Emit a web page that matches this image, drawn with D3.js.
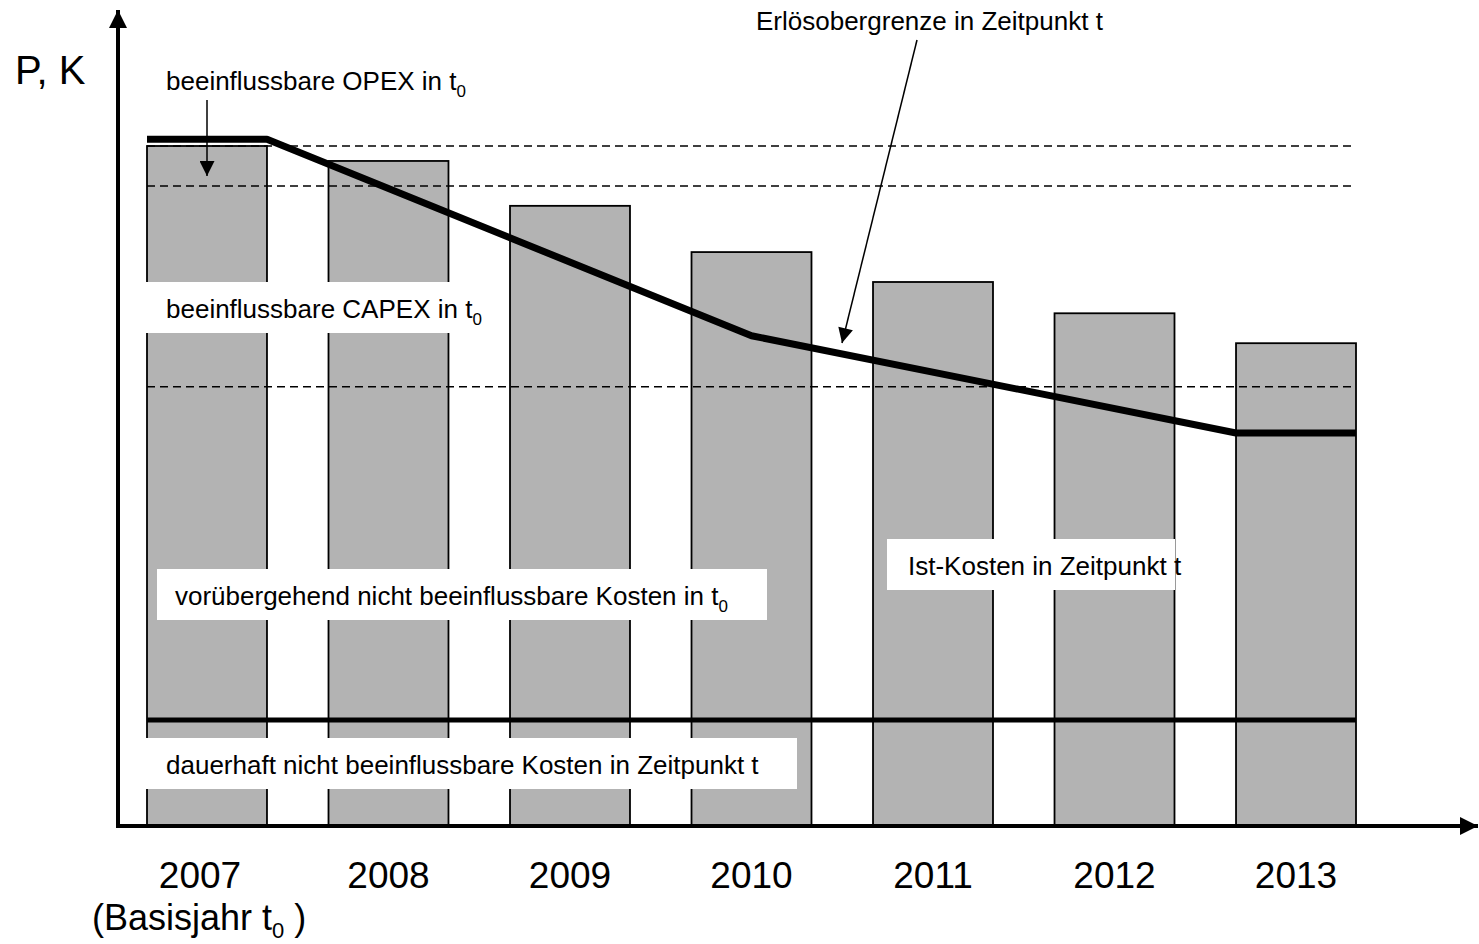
<!DOCTYPE html>
<html>
<head>
<meta charset="utf-8">
<script src="https://cdn.jsdelivr.net/npm/d3@7"></script>
<style>
  body { margin: 0; background: #fff; }
  text { font-family: "Liberation Sans", Arial, sans-serif; fill: #000; }
</style>
</head>
<body>
<div id="chart"></div>
<script>
// Years on the x axis
const years = ["2007", "2008", "2009", "2010", "2011", "2012", "2013"];
// Ist-Kosten (bar heights, base year = 100)
const istKosten = [100, 97.8, 91.2, 84.4, 80.0, 75.4, 71.0];
// Erlösobergrenze: year, position inside the band (0 = left, 1 = right), value
const erloesYears = ["2007", "2007", "2010", "2013", "2013"];
const erloesSides = [0, 1, 0.5, 0, 1];
const erloesValues = [101.0, 101.0, 72.1, 57.8, 57.8];
// dashed reference levels (OPEX / CAPEX split in t0)
const dashedLevels = [100, 94.1, 64.6];
// dauerhaft nicht beeinflussbare Kosten
const dauerhaftLevel = 15.6;

const labelTexts = [
  "beeinflussbare CAPEX in t",
  "vorübergehend nicht beeinflussbare Kosten in t",
  "Ist-Kosten in Zeitpunkt t",
  "dauerhaft nicht beeinflussbare Kosten in Zeitpunkt t"
];

const W = 1479, H = 944;
const svg = d3.select("#chart").append("svg")
    .attr("width", W)
    .attr("height", H);

const defs = svg.append("defs");
defs.append("marker")
    .attr("id", "head")
    .attr("viewBox", "0 0 10 10")
    .attr("refX", 10).attr("refY", 5)
    .attr("markerWidth", 17).attr("markerHeight", 15)
    .attr("markerUnits", "userSpaceOnUse")
    .attr("orient", "auto")
    .append("path").attr("d", "M0,0 L10,5 L0,10 Z").attr("fill", "#000");
defs.append("marker")
    .attr("id", "axisHead")
    .attr("viewBox", "0 0 10 10")
    .attr("refX", 10).attr("refY", 5)
    .attr("markerWidth", 20).attr("markerHeight", 18)
    .attr("markerUnits", "userSpaceOnUse")
    .attr("orient", "auto")
    .append("path").attr("d", "M0,0 L10,5 L0,10 Z").attr("fill", "#000");

const x = d3.scaleBand().domain(years).range([147, 1356]).paddingInner(0.339).paddingOuter(0);
const y = d3.scaleLinear().domain([0, 100]).range([826, 146]);
const xLeft = x(years[0]), xRight = x(years[years.length - 1]) + x.bandwidth();

// bars
svg.append("g").selectAll("rect")
    .data(years)
    .enter()
    .append("rect")
    .attr("x", d => x(d))
    .attr("y", (d, i) => y(istKosten[i]))
    .attr("width", x.bandwidth())
    .attr("height", (d, i) => y(0) - y(istKosten[i]))
    .attr("fill", "#b3b3b3")
    .attr("stroke", "#000")
    .attr("stroke-width", 1.8);

// dashed levels
svg.append("g").selectAll("line")
    .data(dashedLevels)
    .enter()
    .append("line")
    .attr("x1", xLeft).attr("x2", xRight)
    .attr("y1", d => y(d)).attr("y2", d => y(d))
    .attr("stroke", "#000")
    .attr("stroke-width", 1.5)
    .attr("stroke-dasharray", "8,5");

// dauerhaft level
svg.append("line")
    .attr("x1", xLeft).attr("x2", xRight)
    .attr("y1", y(dauerhaftLevel)).attr("y2", y(dauerhaftLevel))
    .attr("stroke", "#000")
    .attr("stroke-width", 5);

// Erlösobergrenze
const erloes = erloesYears.map((yr, i) => [x(yr) + erloesSides[i] * x.bandwidth(), y(erloesValues[i])]);
svg.append("path")
    .attr("d", d3.line()(erloes))
    .attr("fill", "none")
    .attr("stroke", "#000")
    .attr("stroke-width", 7)
    .attr("stroke-linejoin", "bevel");

// axes
svg.append("line")
    .attr("x1", 118).attr("y1", y(0) + 2)
    .attr("x2", 118).attr("y2", 10)
    .attr("stroke", "#000").attr("stroke-width", 4)
    .attr("marker-end", "url(#axisHead)");
svg.append("line")
    .attr("x1", 116).attr("y1", y(0))
    .attr("x2", 1478).attr("y2", y(0))
    .attr("stroke", "#000").attr("stroke-width", 4)
    .attr("marker-end", "url(#axisHead)");

const xAxis = svg.append("g")
    .attr("transform", `translate(0,${y(0)})`)
    .call(d3.axisBottom(x).tickSize(0).tickPadding(0));
xAxis.select(".domain").remove();
xAxis.selectAll("text")
    .attr("dy", null)
    .attr("y", 62)
    .attr("x", d => d === years[0] ? -7 : 0)
    .style("font-family", "'Liberation Sans', Arial, sans-serif")
    .style("font-size", "37px");

// Basisjahr
const basis = svg.append("text")
    .attr("x", 92).attr("y", 930)
    .style("font-size", "36px");
basis.append("tspan").text("(Basisjahr t");
basis.append("tspan").attr("dy", 8).style("font-size", "22px").text("0");
basis.append("tspan").attr("dy", -8).text(" )");

// y axis label
svg.append("text")
    .attr("x", 15).attr("y", 84)
    .style("font-size", "40px")
    .text("P, K");

// labelled boxes
const boxes = [
  { x: 145, y: 282, w: 364, h: 51, dx: 21, sub: true },
  { x: 157, y: 569, w: 610, h: 51, dx: 18, sub: true },
  { x: 887, y: 539, w: 288, h: 51, dx: 21, sub: false },
  { x: 146, y: 738, w: 651, h: 51, dx: 20, sub: false }
];
boxes.forEach((b, i) => {
    svg.append("rect")
        .attr("x", b.x).attr("y", b.y)
        .attr("width", b.w).attr("height", b.h)
        .attr("fill", "#fff");
    const t = svg.append("text")
        .attr("x", b.x + b.dx).attr("y", b.y + 36)
        .style("font-size", "26px");
    t.append("tspan").text(labelTexts[i]);
    if (b.sub) t.append("tspan").attr("dy", 7).style("font-size", "17px").text("0");
});

// OPEX annotation
const opex = svg.append("text")
    .attr("x", 166).attr("y", 90)
    .style("font-size", "26px");
opex.append("tspan").text("beeinflussbare OPEX in t");
opex.append("tspan").attr("dy", 7).style("font-size", "17px").text("0");
svg.append("line")
    .attr("x1", 207).attr("y1", 100)
    .attr("x2", 207).attr("y2", 176)
    .attr("stroke", "#000").attr("stroke-width", 1.5)
    .attr("marker-end", "url(#head)");

// Erlösobergrenze annotation
svg.append("text")
    .attr("x", 756).attr("y", 30)
    .style("font-size", "26px")
    .text("Erlösobergrenze in Zeitpunkt t");
svg.append("line")
    .attr("x1", 917).attr("y1", 40)
    .attr("x2", 842).attr("y2", 343)
    .attr("stroke", "#000").attr("stroke-width", 1.5)
    .attr("marker-end", "url(#head)");
</script>
</body>
</html>
